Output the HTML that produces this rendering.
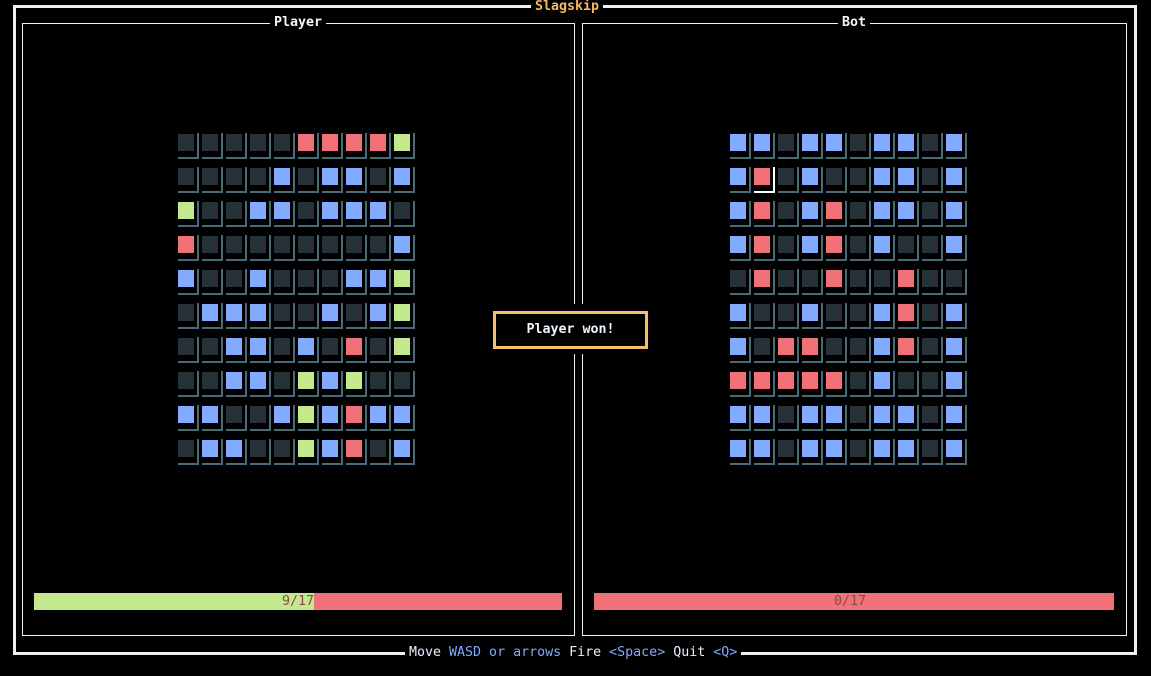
<!DOCTYPE html>
<html><head><meta charset="utf-8">
<style>
html,body{margin:0;padding:0;background:#000;width:1151px;height:676px;overflow:hidden}
body{position:relative;font-family:"DejaVu Sans Mono","Liberation Mono",monospace;font-size:13.3px;font-weight:bold}
.abs{position:absolute}
.title{position:absolute;background:#000;padding:0 4px;line-height:16px;white-space:pre}
</style></head><body>
<div class="abs" style="left:13px;top:5px;width:1118px;height:644px;border:3px solid #f0f0f0"></div>
<div class="title" style="left:531px;top:-1px;color:#f5b860">Slagskip</div>

<div class="abs" style="left:22px;top:23px;width:551px;height:611px;border:1px solid #f0f0f0"></div>
<div class="title" style="left:270px;top:15px;color:#f0f8ff">Player</div>
<div class="abs" style="left:582px;top:23px;width:543px;height:611px;border:1px solid #f0f0f0"></div>
<div class="title" style="left:838px;top:15px;color:#f0f8ff">Bot</div>

<div class="abs" style="left:34px;top:593px;width:528px;height:17px;background:#f07178"></div>
<div class="abs" style="left:34px;top:593px;width:280px;height:17px;background:#c3e88d"></div>
<div class="abs" style="left:282px;top:593px;line-height:17px;color:#8a4848;font-weight:normal">9/17</div>
<div class="abs" style="left:594px;top:593px;width:520px;height:17px;background:#f07178"></div>
<div class="abs" style="left:834px;top:593px;line-height:17px;color:#8a4848;font-weight:normal">0/17</div>

<div class="abs" style="left:560px;top:304px;width:30px;height:50px;background:#000"></div>
<div class="abs" style="left:493px;top:311px;width:149px;height:32px;border:3px solid #f5c06a;background:#000;color:#f0f8ff;text-align:center;line-height:32px">Player won!</div>

<div class="title" style="left:405px;top:645px;color:#e8f0ff;font-weight:normal">Move <span style="color:#82aaff">WASD or arrows</span> Fire <span style="color:#82aaff">&lt;Space&gt;</span> Quit <span style="color:#82aaff">&lt;Q&gt;</span></div>

<script>
const playerRows = [
".....RRRRG",
"....B.BB.B",
"G..BB.BBB.",
"R........B",
"B..B...BBG",
".BBB..B.BG",
"..BB.B.R.G",
"..BB.GBG..",
"BB..BGBRBB",
".BB..GBR.B"];
const botRows = [
"BB.BB.BB.B",
"BR.B..BB.B",
"BR.BR.BB.B",
"BR.BR.B..B",
".R..R..R..",
"B..B..BR.B",
"B.RR..BR.B",
"RRRRR.B..B",
"BB.BB.BB.B",
"BB.BB.BB.B"];
const cursor = [1,1];
const colors = {'.':'#263238','B':'#82aaff','R':'#f07178','G':'#c3e88d'};
function draw(rows, x0, y0, parentName, cur){
  rows.forEach((row, r) => {
    [...row].forEach((ch, c) => {
      const x = x0 + c*24, y = y0 + r*34;
      const sq = document.createElement('div');
      
      
      const isCur = cur && cur[0] === r && cur[1] === c;
      sq.style.cssText = `position:absolute;left:${x}px;top:${y}px;width:16px;height:17px;background:${colors[ch]}`;
      document.body.appendChild(sq);
      const fr = document.createElement('div');
      
      
      const bc = isCur ? '#ffffff' : '#4a6a78';
      fr.style.cssText = `position:absolute;left:${x}px;top:${y-1}px;width:21px;height:26px;border-right:2px solid ${bc};border-bottom:2px solid ${bc};box-sizing:border-box`;
      document.body.appendChild(fr);
    });
  });
}
draw(playerRows, 178, 134, 'player', null);
draw(botRows, 730, 134, 'bot', cursor);
</script>
</body></html>
